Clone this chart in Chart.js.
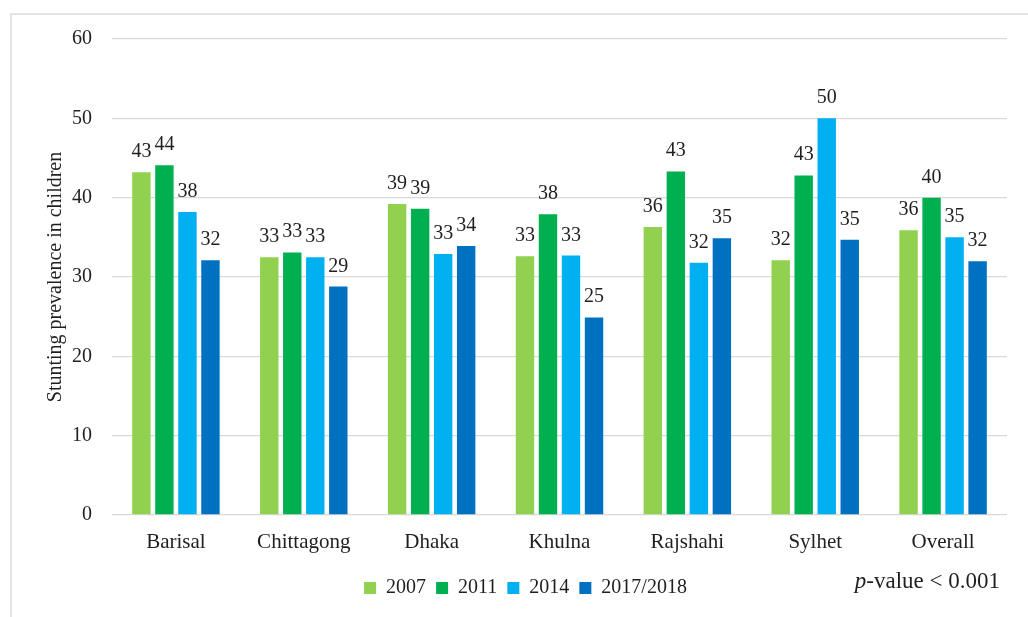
<!DOCTYPE html>
<html>
<head>
<meta charset="utf-8">
<script src="https://cdn.jsdelivr.net/npm/chart.js@4.4.1/dist/chart.umd.min.js"></script>
<style>
  html, body { margin: 0; padding: 0; background: #fff; }
  #wrap { width: 1028px; height: 617px; }
</style>
</head>
<body>
<div id="wrap"><canvas id="chart" width="1028" height="617"></canvas></div>
<script>
// data
const regions = ['Barisal', 'Chittagong', 'Dhaka', 'Khulna', 'Rajshahi', 'Sylhet', 'Overall'];
const years = ['2007', '2011', '2014', '2017/2018'];
const y2007 = [43.2, 32.5, 39.2, 32.6, 36.3, 32.1, 35.9];
const y2011 = [44.1, 33.1, 38.6, 37.9, 43.3, 42.8, 40.0];
const y2014 = [38.2, 32.5, 32.9, 32.7, 31.8, 50.0, 35.0];
const y2018 = [32.1, 28.8, 33.9, 24.9, 34.9, 34.7, 32.0];
const yTicks = [0, 10, 20, 30, 40, 50, 60];
const colors = ['#92D050', '#00B050', '#00B0F0', '#0070C0'];

const serif = "'Liberation Serif', 'DejaVu Serif', serif";
const textColor = '#1f1f1f';

//frame round the figure
const framePlugin = {
    id: 'frame',
    beforeDraw(chart) {
        const ctx = chart.ctx;
        ctx.save();
        ctx.fillStyle = '#fff';
        ctx.fillRect(0, 0, chart.width, chart.height);
        ctx.strokeStyle = '#dcdcdc';
        ctx.lineWidth = 1.5;
        ctx.beginPath();
        ctx.moveTo(11, chart.height + 5);
        ctx.lineTo(11, 14);
        ctx.lineTo(chart.width + 5, 14);
        ctx.stroke();
        ctx.restore();
    }
};

//value labels above each bar
const valueLabels = {
    id: 'valueLabels',
    afterDatasetsDraw(chart) {
        const ctx = chart.ctx;
        ctx.save();
        ctx.font = '20px ' + serif;
        ctx.fillStyle = textColor;
        ctx.textAlign = 'center';
        ctx.textBaseline = 'alphabetic';
        chart.data.datasets.forEach((ds, i) => {
            chart.getDatasetMeta(i).data.forEach((bar, j) => {
                ctx.fillText(Math.round(ds.data[j]), bar.x, bar.y - 15);
            });
        });
        ctx.restore();
    }
};

//p-value note, bottom right
const pNote = {
    id: 'pNote',
    afterDraw(chart) {
        const ctx = chart.ctx;
        ctx.save();
        ctx.fillStyle = textColor;
        ctx.textBaseline = 'alphabetic';
        ctx.textAlign = 'left';
        const rest = '-value < 0.001';
        ctx.font = 'italic 23px ' + serif;
        const wp = ctx.measureText('p').width;
        ctx.font = '23px ' + serif;
        const wr = ctx.measureText(rest).width;
        const x0 = 1000 - wp - wr;
        ctx.font = 'italic 23px ' + serif;
        ctx.fillText('p', x0, 588);
        ctx.font = '23px ' + serif;
        ctx.fillText(rest, x0 + wp, 588);
        ctx.restore();
    }
};

const series = [y2007, y2011, y2014, y2018];

new Chart(document.getElementById('chart'), {
    type: 'bar',
    data: {
        labels: regions,
        datasets: years.map((yr, i) => ({
            label: yr,
            data: series[i],
            backgroundColor: colors[i],
            categoryPercentage: 0.72,
            barPercentage: 0.8
        }))
    },
    options: {
        responsive: false,
        animation: false,
        layout: { padding: { left: 44, right: 21, top: 39, bottom: 9 } },
        scales: {
            x: {
                grid: { display: false, drawTicks: false },
                border: { display: false },
                ticks: { color: textColor, font: { family: serif, size: 21 }, padding: 15 },
                afterFit(scale) { scale.height = 53; }
            },
            y: {
                min: 0,
                max: 60,
                afterBuildTicks(scale) { scale.ticks = yTicks.map(v => ({ value: v })); },
                grid: { color: '#d9d9d9', lineWidth: 1.3, drawTicks: false },
                border: { display: false },
                ticks: { color: textColor, font: { family: serif, size: 20 }, padding: 20 },
                title: {
                    display: true,
                    text: 'Stunting prevalence in children',
                    color: textColor,
                    font: { family: serif, size: 20 },
                    padding: { top: 0, bottom: 4 }
                },
                afterFit(scale) { scale.width = 68; }
            }
        },
        plugins: {
            legend: {
                position: 'bottom',
                labels: {
                    color: textColor,
                    font: { family: serif, size: 20 },
                    boxWidth: 12,
                    boxHeight: 12,
                    padding: 10
                }
            },
            tooltip: { enabled: false }
        }
    },
    plugins: [framePlugin, valueLabels, pNote]
});
</script>
</body>
</html>
